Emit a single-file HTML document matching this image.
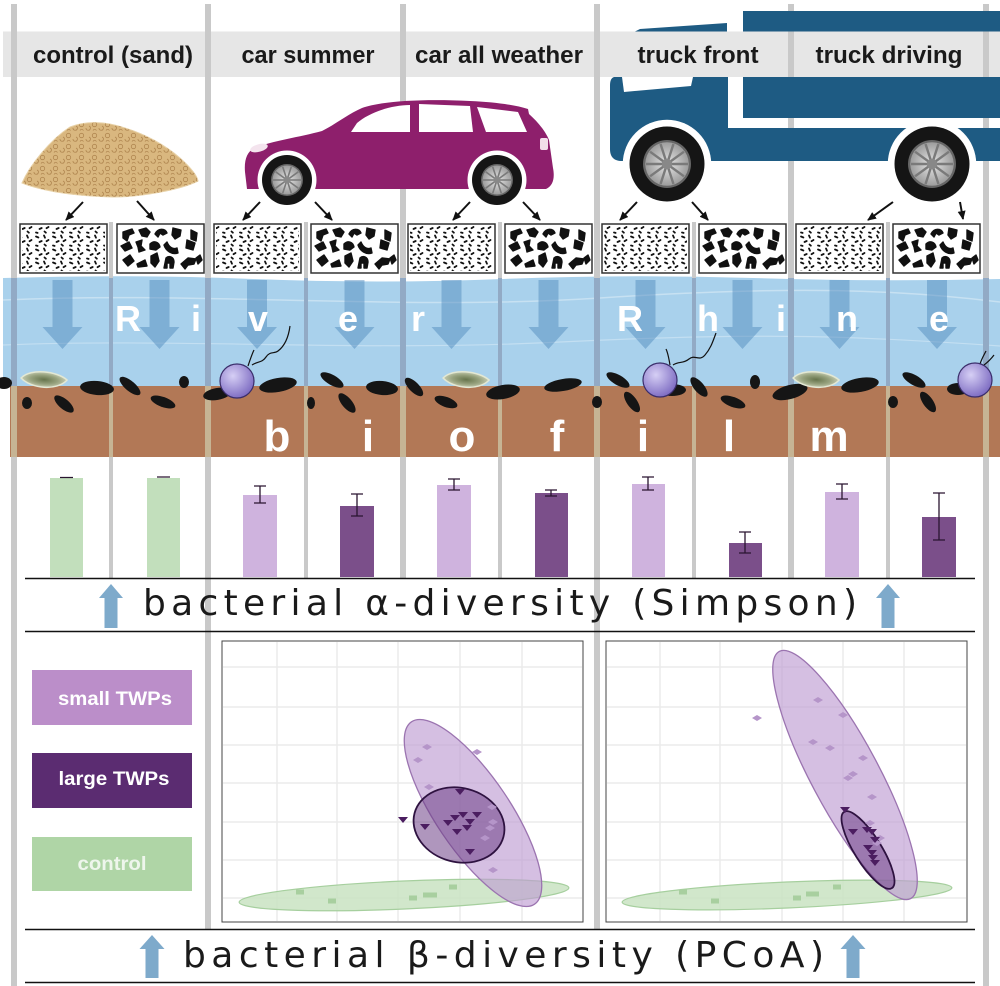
<!DOCTYPE html>
<html><head><meta charset="utf-8"><style>html,body{margin:0;padding:0;background:#fff}svg{display:block}</style></head>
<body>
<svg xmlns="http://www.w3.org/2000/svg" xmlns:xlink="http://www.w3.org/1999/xlink" width="1000" height="986" viewBox="0 0 1000 986">
<defs>
 <pattern id="sandp" width="13" height="11" patternUnits="userSpaceOnUse">
  <circle cx="3.5" cy="3.5" r="2.2" fill="none" stroke="#b08650" stroke-width="0.8"/>
  <path d="M8,7 a2.2,2.2 0 1 0 3,-2" fill="none" stroke="#b08650" stroke-width="0.8"/>
  <path d="M2,9.5 q1.5,-2.5 3.5,0" fill="none" stroke="#b08650" stroke-width="0.8"/>
 </pattern>
 <pattern id="speck" width="17" height="13" patternUnits="userSpaceOnUse">
  <path d="M2,2.5 l2.4,1 M10,1.5 l1,2.2 M14.5,6 l-2,1.2 M5.5,8 l2.2,-1 M2,11.5 l1.6,0.4 M10.5,10.5 l1.4,1.2" stroke="#111" stroke-width="1.8" stroke-linecap="round" fill="none"/>
 </pattern>
 <g id="blobs" fill="#111" stroke="#111" stroke-width="1.4" stroke-linejoin="round">
  <path d="M6,8 l9,-3 l2,4 l-5,2 l-2,6 l-4,-3 z"/>
  <path d="M22,6 l7,-2 l4,4 l-3,5 l-5,-1 z"/>
  <path d="M38,10 c3,-6 10,-6 12,-1 l-4,2 l-3,-2 l-2,4 z"/>
  <path d="M56,4 l8,2 l-1,6 l-5,3 l-3,-4 z"/>
  <path d="M74,6 l6,3 l-1,8 l-5,-2 z"/>
  <path d="M4,22 l8,-4 l3,6 l-7,3 z"/>
  <path d="M19,18 l6,-2 l-1,6 l4,4 l-6,2 l-1,-5 z"/>
  <path d="M33,20 c4,-4 9,-2 10,3 l-4,3 l-6,-1 z"/>
  <path d="M50,18 c2,5 6,8 10,6 l1,5 c-6,2 -12,-2 -14,-8 z"/>
  <path d="M70,16 l8,3 l-2,7 l-7,-2 z"/>
  <path d="M6,36 l7,-5 l4,6 l-6,5 z"/>
  <path d="M20,40 l8,-4 l2,6 l-9,1 z"/>
  <path d="M34,32 l6,-3 l2,8 l-4,6 l-4,-4 z"/>
  <path d="M47,44 l2,-10 c3,-3 8,-1 8,4 l-1,6 l-3,0 l0,-5 l-3,0 l0,5 z"/>
  <path d="M64,40 l7,-6 l8,1 l-2,5 l-6,1 l-3,4 z"/>
  <path d="M79,34 l4,-3 l2,5 l-4,4 z"/>
 </g>
 <radialGradient id="rim" cx="0.5" cy="0.5" r="0.5">
  <stop offset="0" stop-color="#e6e6e6"/><stop offset="1" stop-color="#9d9d9d"/>
 </radialGradient>
 <g id="wheel">
  <circle r="29.5" fill="#fff"/>
  <circle r="25" fill="#151515"/>
  <circle r="16" fill="#666"/>
  <circle r="14.5" fill="url(#rim)"/>
  <path d="M0,0L14,0M0,0L11.3,8.2M0,0L4.3,13.3M0,0L-4.3,13.3M0,0L-11.3,8.2M0,0L-14,0M0,0L-11.3,-8.2M0,0L-4.3,-13.3M0,0L4.3,-13.3M0,0L11.3,-8.2" stroke="#7a7a7a" stroke-width="1.6"/>
  <circle r="3.5" fill="#888"/>
 </g>
 <radialGradient id="bact" cx="0.38" cy="0.35" r="0.7">
  <stop offset="0" stop-color="#d6cff5"/><stop offset="1" stop-color="#7a68c0"/>
 </radialGradient>
 <radialGradient id="diat" cx="0.5" cy="0.5" r="0.5">
  <stop offset="0" stop-color="#66744c"/><stop offset="0.6" stop-color="#98a37f"/><stop offset="1" stop-color="#c6ccb2"/>
 </radialGradient>
 <marker id="ah" markerUnits="userSpaceOnUse" markerWidth="9" markerHeight="8" refX="8" refY="4" orient="auto">
  <path d="M0,0 L9,4 L0,8 z" fill="#111"/>
 </marker>
</defs>

<rect width="1000" height="986" fill="#fff"/>

<!-- header band -->
<rect x="3" y="31.5" width="997" height="45.5" fill="#e6e6e6"/>

<!-- river & sediment -->
<path d="M3,278 Q128,274 253,279 T503,279 T753,278 T1000,279 L1000,386 L3,386 Z" fill="#a9d1ec"/>
<rect x="10" y="386" width="990" height="71" fill="#b27856"/>
<path d="M3,300 C200,291 400,311 600,298 S900,290 1000,302" stroke="#fff" stroke-opacity="0.35" stroke-width="1.5" fill="none"/>
<path d="M3,345 C180,338 360,352 560,342 S860,336 1000,346" stroke="#fff" stroke-opacity="0.3" stroke-width="1.2" fill="none"/>

<!-- vertical separators -->
<g stroke-width="6">
 <g stroke="#c9c9c9">
  <path d="M14,4V278M208,4V278M403,4V278M597,4V278M791,4V278M986,4V278"/>
  <path d="M14,457V986M208,457V929M403,457V578M597,457V929M791,457V578M986,457V986"/>
 </g>
 <path d="M14,278V386M208,278V386M403,278V386M597,278V386M791,278V386M986,278V386" stroke="#92aac5"/>
 <path d="M14,386V457M208,386V457M403,386V457M597,386V457M791,386V457M986,386V457" stroke="#c6b494"/>
</g>
<g stroke-width="4">
 <path d="M111,222V278M306,222V278M500,222V278M694,222V278M888,222V278M111,457V578M306,457V578M500,457V578M694,457V578M888,457V578" stroke="#c9c9c9"/>
 <path d="M111,278V386M306,278V386M500,278V386M694,278V386M888,278V386" stroke="#92aac5"/>
 <path d="M111,386V457M306,386V457M500,386V457M694,386V457M888,386V457" stroke="#c6b494"/>
</g>

<!-- header text -->
<g font-family="Liberation Sans, Arial, sans-serif" font-weight="bold" font-size="24" fill="#1a1a1a" text-anchor="middle">
 <text x="113" y="63" textLength="160" lengthAdjust="spacingAndGlyphs">control (sand)</text>
 <text x="308" y="63" textLength="133" lengthAdjust="spacingAndGlyphs">car summer</text>
 <text x="499" y="63" textLength="168" lengthAdjust="spacingAndGlyphs">car all weather</text>
 <text x="698" y="63" textLength="121" lengthAdjust="spacingAndGlyphs">truck front</text>
 <text x="889" y="63" textLength="147" lengthAdjust="spacingAndGlyphs">truck driving</text>
</g>

<!-- sand pile -->
<path d="M22,183 C30,165 50,140 70,127 C85,121 105,121 125,128 C145,134 165,145 180,158 C190,167 197,175 198,181 C180,190 140,197 113,197 C80,196 45,192 22,183 Z" fill="#d9b77f" stroke="#e8d2a8" stroke-width="1"/>
<path d="M22,183 C30,165 50,140 70,127 C85,121 105,121 125,128 C145,134 165,145 180,158 C190,167 197,175 198,181 C180,190 140,197 113,197 C80,196 45,192 22,183 Z" fill="url(#sandp)"/>

<!-- car -->
<path d="M247,189 L245,172 C244,160 247,152 254,148 C272,141 300,137 322,131 C336,124 348,114 362,108 C385,100 430,99 470,101 C495,102 515,105 528,109 L529,114 C538,122 546,132 549,140 L553,168 C555,178 553,186 546,189 Z" fill="#8e1f6c"/>
<path d="M351,132 L357,123 C370,112 392,105 410,105 L410,132 Z" fill="#fff"/>
<path d="M419,104 L470,106 L473,132 L419,132 Z" fill="#fff"/>
<path d="M477,107 L518,112 L527,132 L486,132 Z" fill="#fff"/>
<rect x="540" y="138" width="8" height="12" rx="2" fill="#f2dde9"/>
<ellipse cx="259" cy="148" rx="9" ry="3.8" transform="rotate(-15 259 148)" fill="#f4e4ee"/>
<use xlink:href="#wheel" href="#wheel" transform="translate(287,180)"/>
<use xlink:href="#wheel" href="#wheel" transform="translate(497,180)"/>

<!-- truck -->
<g fill="#1e5b83">
 <rect x="743" y="11" width="257" height="20.5"/>
 <polygon points="635,31.5 640,29 727,23 727,31.5"/>
 <rect x="743" y="77" width="257" height="41"/>
 <path d="M614,77 L728,77 L728,128 L1000,128 L1000,161 L622,161 C614,161 610,157 610,149 L610,86 C610,81 611,78 614,77 Z"/>
</g>
<polygon points="622,77 693,77 691,86 624,92" fill="#fff"/>
<use xlink:href="#wheel" href="#wheel" transform="translate(667,164) scale(1.5)"/>
<use xlink:href="#wheel" href="#wheel" transform="translate(932,164) scale(1.5)"/>

<!-- small arrows -->
<g stroke="#111" stroke-width="2" marker-end="url(#ah)" fill="none">
 <path d="M83,202 L66,220"/><path d="M137,201 L154,220"/>
 <path d="M260,202 L243,220"/><path d="M315,202 L332,220"/>
 <path d="M470,202 L453,220"/><path d="M523,202 L540,220"/>
 <path d="M637,202 L620,220"/><path d="M692,202 L708,220"/>
 <path d="M893,202 L868,220"/><path d="M960,202 L963,219"/>
</g>

<!-- particle boxes -->
<g stroke="#333" stroke-width="1.5" fill="#fff">
 <rect x="20" y="224" width="87" height="49"/><rect x="117" y="224" width="87" height="49"/>
 <rect x="214" y="224" width="87" height="49"/><rect x="311" y="224" width="87" height="49"/>
 <rect x="408" y="224" width="87" height="49"/><rect x="505" y="224" width="87" height="49"/>
 <rect x="602" y="224" width="87" height="49"/><rect x="699" y="224" width="87" height="49"/>
 <rect x="796" y="224" width="87" height="49"/><rect x="893" y="224" width="87" height="49"/>
</g>
<g fill="url(#speck)">
 <rect x="22" y="226" width="83" height="45"/><rect x="216" y="226" width="83" height="45"/>
 <rect x="410" y="226" width="83" height="45"/><rect x="604" y="226" width="83" height="45"/>
 <rect x="798" y="226" width="83" height="45"/>
</g>
<use xlink:href="#blobs" href="#blobs" x="117" y="224"/>
<use xlink:href="#blobs" href="#blobs" x="311" y="224"/>
<use xlink:href="#blobs" href="#blobs" x="505" y="224"/>
<use xlink:href="#blobs" href="#blobs" x="699" y="224"/>
<use xlink:href="#blobs" href="#blobs" x="893" y="224"/>

<!-- river arrows -->
<g fill="#4a86bb" fill-opacity="0.45">
 <polygon points="52.5,280 72.5,280 72.5,327 82.5,327 62.5,349 42.5,327 52.5,327"/>
 <polygon points="149.5,280 169.5,280 169.5,327 179.5,327 159.5,349 139.5,327 149.5,327"/>
 <polygon points="247,280 267,280 267,327 277,327 257,349 237,327 247,327"/>
 <polygon points="344.5,280 364.5,280 364.5,327 374.5,327 354.5,349 334.5,327 344.5,327"/>
 <polygon points="441.5,280 461.5,280 461.5,327 471.5,327 451.5,349 431.5,327 441.5,327"/>
 <polygon points="538.5,280 558.5,280 558.5,327 568.5,327 548.5,349 528.5,327 538.5,327"/>
 <polygon points="635.5,280 655.5,280 655.5,327 665.5,327 645.5,349 625.5,327 635.5,327"/>
 <polygon points="732.5,280 752.5,280 752.5,327 762.5,327 742.5,349 722.5,327 732.5,327"/>
 <polygon points="829.5,280 849.5,280 849.5,327 859.5,327 839.5,349 819.5,327 829.5,327"/>
 <polygon points="927,280 947,280 947,327 957,327 937,349 917,327 927,327"/>
</g>

<!-- River Rhine letters -->
<g font-family="Liberation Sans, Arial, sans-serif" font-weight="bold" font-size="36" fill="#fff" text-anchor="middle">
 <text x="128" y="331">R</text><text x="196" y="331">i</text><text x="258" y="331">v</text><text x="348" y="331">e</text><text x="418" y="331">r</text>
 <text x="630" y="331">R</text><text x="708" y="331">h</text><text x="781" y="331">i</text><text x="847" y="331">n</text><text x="939" y="331">e</text>
</g>

<!-- biofilm letters -->
<g font-family="Liberation Sans, Arial, sans-serif" font-weight="bold" font-size="44" fill="#fff" text-anchor="middle">
 <text x="277" y="451">b</text><text x="368" y="451">i</text><text x="462" y="451">o</text><text x="557" y="451">f</text><text x="643" y="451">i</text><text x="729" y="451">l</text><text x="829" y="451">m</text>
</g>

<!-- interface particles -->
<g fill="#151515">
 <ellipse cx="4" cy="383" rx="8" ry="6"/>
 <ellipse cx="97" cy="388" rx="17" ry="7" transform="rotate(5 97 388)"/>
 <ellipse cx="27" cy="403" rx="5" ry="6"/>
 <ellipse cx="64" cy="404" rx="12" ry="5" transform="rotate(40 64 404)"/>
 <ellipse cx="130" cy="386" rx="13" ry="5" transform="rotate(40 130 386)"/>
 <ellipse cx="184" cy="382" rx="5" ry="6"/>
 <ellipse cx="163" cy="402" rx="13" ry="5" transform="rotate(20 163 402)"/>
 <ellipse cx="217" cy="394" rx="14" ry="6" transform="rotate(-10 217 394)"/>
 <ellipse cx="278" cy="385" rx="19" ry="7" transform="rotate(-10 278 385)"/>
 <ellipse cx="332" cy="380" rx="13" ry="5" transform="rotate(30 332 380)"/>
 <ellipse cx="382" cy="388" rx="16" ry="7" transform="rotate(5 382 388)"/>
 <ellipse cx="311" cy="403" rx="4" ry="6"/>
 <ellipse cx="347" cy="403" rx="12" ry="5" transform="rotate(50 347 403)"/>
 <ellipse cx="414" cy="387" rx="12" ry="5" transform="rotate(45 414 387)"/>
 <ellipse cx="446" cy="402" rx="12" ry="5" transform="rotate(20 446 402)"/>
 <ellipse cx="503" cy="392" rx="17" ry="7" transform="rotate(-10 503 392)"/>
 <ellipse cx="563" cy="385" rx="19" ry="6" transform="rotate(-10 563 385)"/>
 <ellipse cx="597" cy="402" rx="5" ry="6"/>
 <ellipse cx="618" cy="380" rx="13" ry="5" transform="rotate(30 618 380)"/>
 <ellipse cx="632" cy="402" rx="12" ry="5" transform="rotate(55 632 402)"/>
 <ellipse cx="672" cy="390" rx="14" ry="6"/>
 <ellipse cx="699" cy="387" rx="12" ry="5" transform="rotate(50 699 387)"/>
 <ellipse cx="755" cy="382" rx="5" ry="7"/>
 <ellipse cx="733" cy="402" rx="13" ry="5" transform="rotate(20 733 402)"/>
 <ellipse cx="790" cy="392" rx="18" ry="7" transform="rotate(-15 790 392)"/>
 <ellipse cx="860" cy="385" rx="19" ry="7" transform="rotate(-10 860 385)"/>
 <ellipse cx="893" cy="402" rx="5" ry="6"/>
 <ellipse cx="914" cy="380" rx="13" ry="5" transform="rotate(30 914 380)"/>
 <ellipse cx="928" cy="402" rx="12" ry="5" transform="rotate(55 928 402)"/>
 <ellipse cx="958" cy="389" rx="11" ry="6"/>
</g>
<!-- diatoms -->
<g fill="url(#diat)" stroke="#e3e8d4" stroke-width="1.5">
 <path d="M-23,0 C-14,-11 12,-10 23,-2 C14,10 -12,10 -23,0 Z" transform="translate(44,380) rotate(5)"/>
 <path d="M-23,0 C-14,-11 12,-10 23,-2 C14,10 -12,10 -23,0 Z" transform="translate(466,380) rotate(5)"/>
 <path d="M-23,0 C-14,-11 12,-10 23,-2 C14,10 -12,10 -23,0 Z" transform="translate(816,380) rotate(5)"/>
</g>
<!-- bacteria -->
<g stroke="#111" stroke-width="1.2" fill="none">
 <path d="M248,366 c2,-6 4,-12 6,-16 M252,365 c6,-4 10,-2 14,-8 s8,-3 12,-6 s10,-10 12,-25"/>
 <path d="M670,365 c-1,-6 -2,-12 -4,-16 M673,365 c6,-4 10,-1 16,-6 s10,3 16,-4 s8,-14 11,-22"/>
 <path d="M980,364 c2,-6 4,-9 6,-13 M984,365 c4,-3 7,-6 10,-10"/>
</g>
<g fill="url(#bact)" stroke="#3a2d6a" stroke-width="1.2">
 <circle cx="237" cy="381" r="17"/>
 <circle cx="660" cy="380" r="17"/>
 <circle cx="975" cy="380" r="17"/>
</g>

<!-- bar chart -->
<g>
 <rect x="50" y="478" width="33" height="99" fill="#c2dfbc"/>
 <rect x="147" y="478" width="33" height="99" fill="#c2dfbc"/>
 <rect x="243" y="495" width="34" height="82" fill="#cfb3de"/>
 <rect x="340" y="506" width="34" height="71" fill="#7b4f8a"/>
 <rect x="437" y="485" width="34" height="92" fill="#cfb3de"/>
 <rect x="535" y="493" width="33" height="84" fill="#7b4f8a"/>
 <rect x="632" y="484" width="33" height="93" fill="#cfb3de"/>
 <rect x="729" y="543" width="33" height="34" fill="#7b4f8a"/>
 <rect x="825" y="492" width="34" height="85" fill="#cfb3de"/>
 <rect x="922" y="517" width="34" height="60" fill="#7b4f8a"/>
</g>
<g stroke="#2a1530" stroke-width="1.3" fill="none">
 <path d="M60,477.5h13M157,477h13"/>
 <path d="M260,486v17M254,486h12M254,503h12"/>
 <path d="M357,494v22M351,494h12M351,516h12"/>
 <path d="M454,479v11M448,479h12M448,490h12"/>
 <path d="M551,490v6M545,490h12M545,496h12"/>
 <path d="M648,477v13M642,477h12M642,490h12"/>
 <path d="M745,532v21M739,532h12M739,553h12"/>
 <path d="M842,484v15M836,484h12M836,499h12"/>
 <path d="M939,493v47M933,493h12M933,540h12"/>
</g>
<g stroke="#111" stroke-width="1.6">
 <path d="M25,578.5H975M25,631.5H975M25,929.5H975M25,982.5H975"/>
</g>
<!-- blue up arrows -->
<g fill="#7eaacb">
 <polygon points="111,584 123,598 117.5,598 117.5,628 104.5,628 104.5,598 99,598"/>
 <polygon points="888,584 900,598 894.5,598 894.5,628 881.5,628 881.5,598 876,598"/>
 <polygon points="152,935 164.5,949 158.5,949 158.5,978 145.5,978 145.5,949 139.5,949"/>
 <polygon points="853,935 865.5,949 859.5,949 859.5,978 846.5,978 846.5,949 840.5,949"/>
</g>
<g font-family="DejaVu Sans, Liberation Sans, sans-serif" font-size="36" fill="#1a1a1a">
 <text x="143" y="615" textLength="714" lengthAdjust="spacing">bacterial α-diversity (Simpson)</text>
 <text x="183" y="967" textLength="641" lengthAdjust="spacing">bacterial β-diversity (PCoA)</text>
</g>

<!-- legend -->
<rect x="32" y="670" width="160" height="55" fill="#bb8ec9"/>
<rect x="32" y="753" width="160" height="55" fill="#5b2c71"/>
<rect x="32" y="837" width="160" height="54" fill="#afd5a6"/>
<g font-family="Liberation Sans, Arial, sans-serif" font-weight="bold" font-size="19" text-anchor="middle">
 <text x="115" y="705" fill="#fff" textLength="114" lengthAdjust="spacingAndGlyphs">small TWPs</text>
 <text x="114" y="785" fill="#fff" textLength="111" lengthAdjust="spacingAndGlyphs">large TWPs</text>
 <text x="112" y="870" fill="#eef6ec" textLength="69" lengthAdjust="spacingAndGlyphs">control</text>
</g>

<!-- PCoA left -->
<rect x="222" y="641" width="361" height="281" fill="#fff" stroke="#444" stroke-width="1"/>
<g stroke="#ebebeb" stroke-width="1.5">
 <path d="M277,642V921M337,642V921M398,642V921M460,642V921M522,642V921"/>
 <path d="M223,667H582M223,707H582M223,745H582M223,783H582M223,822H582M223,860H582M223,898H582"/>
</g>
<ellipse cx="404" cy="895" rx="165" ry="14" transform="rotate(-2.5 404 895)" fill="#c9e3c2" fill-opacity="0.85" stroke="#a6cf9e" stroke-width="1.2"/>
<ellipse cx="473" cy="813" rx="110" ry="37" transform="rotate(56 473 813)" fill="#bf9dd2" fill-opacity="0.65" stroke="#9b74b0" stroke-width="1.3"/>
<ellipse cx="459" cy="825" rx="46" ry="37" transform="rotate(15 459 825)" fill="#6e3f86" fill-opacity="0.55" stroke="#2e1240" stroke-width="1.8"/>
<path d="M422,747l5-3l5,3l-5,3zM413,760l5-3l5,3l-5,3zM472,752l5-3l5,3l-5,3zM424,787l5-3l5,3l-5,3zM487,807l5-3l5,3l-5,3zM488,822l5-3l5,3l-5,3zM485,828l5-3l5,3l-5,3zM480,838l5-3l5,3l-5,3zM488,870l5-3l5,3l-5,3z" fill="#b595c9"/>
<path d="M398,817h10l-5,6zM455,789h10l-5,6zM420,824h10l-5,6zM443,820h10l-5,6zM450,815h10l-5,6zM458,812h10l-5,6zM472,812h10l-5,6zM465,819h10l-5,6zM452,829h10l-5,6zM462,825h10l-5,6zM465,849h10l-5,6z" fill="#4b1d60"/>
<g fill="#a8cf9f">
 <rect x="296" y="889.5" width="8" height="5"/><rect x="328" y="898.5" width="8" height="5"/>
 <rect x="409" y="895.5" width="8" height="5"/><rect x="423" y="892.5" width="8" height="5"/>
 <rect x="429" y="892.5" width="8" height="5"/><rect x="449" y="884.5" width="8" height="5"/>
</g>

<!-- PCoA right -->
<rect x="606" y="641" width="361" height="281" fill="#fff" stroke="#444" stroke-width="1"/>
<g stroke="#ebebeb" stroke-width="1.5">
 <path d="M660,642V921M720,642V921M782,642V921M843,642V921M904,642V921"/>
 <path d="M607,667H966M607,707H966M607,745H966M607,783H966M607,822H966M607,860H966M607,898H966"/>
</g>
<ellipse cx="787" cy="895" rx="165" ry="13" transform="rotate(-2.5 787 895)" fill="#c9e3c2" fill-opacity="0.85" stroke="#a6cf9e" stroke-width="1.2"/>
<ellipse cx="845" cy="775" rx="140" ry="34" transform="rotate(62 845 775)" fill="#bf9dd2" fill-opacity="0.65" stroke="#9b74b0" stroke-width="1.3"/>
<ellipse cx="868" cy="850" rx="45" ry="13.5" transform="rotate(58 868 850)" fill="#6e3f86" fill-opacity="0.55" stroke="#2e1240" stroke-width="1.8"/>
<path d="M752,718l5-3l5,3l-5,3zM813,700l5-3l5,3l-5,3zM838,715l5-3l5,3l-5,3zM808,742l5-3l5,3l-5,3zM825,748l5-3l5,3l-5,3zM858,758l5-3l5,3l-5,3zM843,778l5-3l5,3l-5,3zM848,774l5-3l5,3l-5,3zM867,797l5-3l5,3l-5,3zM865,823l5-3l5,3l-5,3zM875,838l5-3l5,3l-5,3zM872,843l5-3l5,3l-5,3z" fill="#b595c9"/>
<path d="M840,807h10l-5,6zM848,829h10l-5,6zM862,827h10l-5,6zM867,829h10l-5,6zM870,837h10l-5,6zM863,845h10l-5,6zM867,850h10l-5,6zM868,855h10l-5,6zM870,860h10l-5,6z" fill="#4b1d60"/>
<g fill="#a8cf9f">
 <rect x="679" y="889.5" width="8" height="5"/><rect x="711" y="898.5" width="8" height="5"/>
 <rect x="793" y="895.5" width="8" height="5"/><rect x="806" y="891.5" width="8" height="5"/>
 <rect x="811" y="891.5" width="8" height="5"/><rect x="833" y="884.5" width="8" height="5"/>
</g>
</svg>
</body></html>
